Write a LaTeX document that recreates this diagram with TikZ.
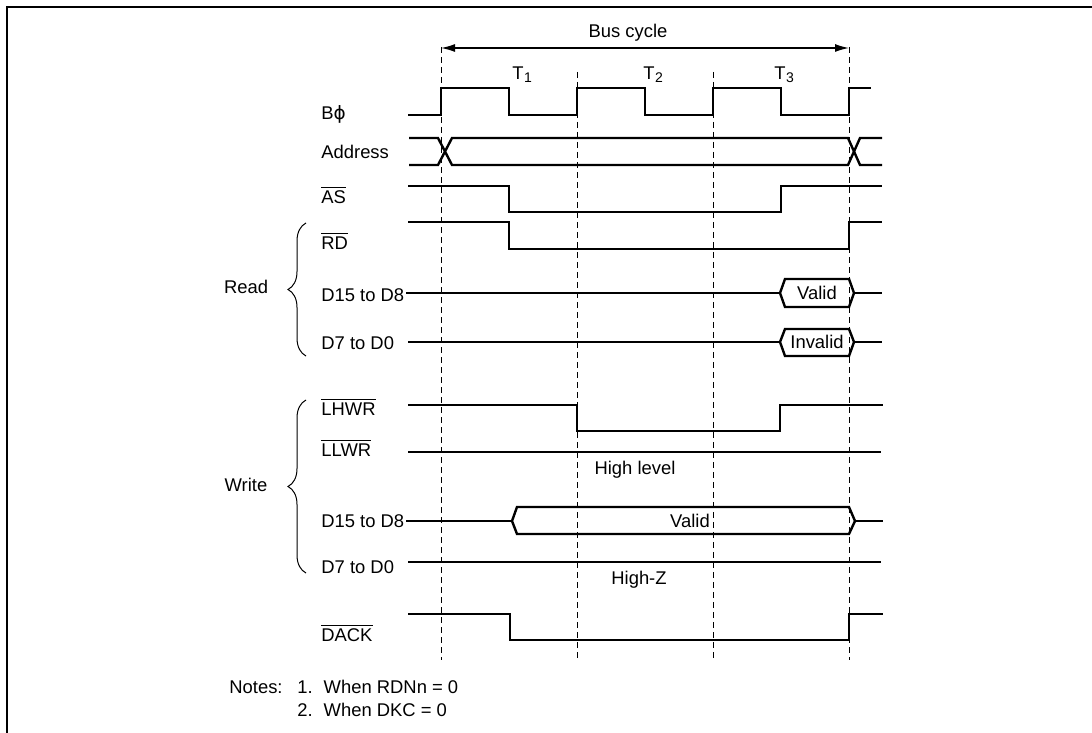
\documentclass[tikz,border=0pt]{standalone}
\usepackage{fontspec}
\setmainfont{Liberation Sans}
\newfontfamily\greekfont{DejaVu Sans}
\usetikzlibrary{arrows.meta,decorations.pathreplacing}
\newcommand{\ovl}[1]{$\overline{\mbox{#1}}$}
\newcommand{\tsub}[1]{T\hspace{0.3pt}\raisebox{-1.3pt}{\fontsize{7}{7}\selectfont #1}}

\begin{document}
\begin{tikzpicture}[x=0.5pt,y=-0.5pt,font=\fontsize{9.2}{11}\selectfont,
    sig/.style={line width=1.2pt},
    tick/.style={line width=0.5pt,dash pattern=on 3pt off 2pt},
    lab/.style={anchor=west,inner sep=0pt},
    brace/.style={line width=0.5pt,decorate,decoration={brace,amplitude=9pt}}]
    \useasboundingbox (0,0) rectangle (1092,733);
    \draw[line width=1pt] (7,733)--(7,7)--(1092,7);
    % cycle marks and bus cycle
    \foreach \x/\t in {441/47,577/72,713/72,849/47} \draw[tick] (\x,\t)--(\x,660);
    \coordinate (bcl) at (441,48); \coordinate (bcr) at (849,48);
    \draw[line width=0.7pt,{Latex[length=7pt,width=4pt]}-{Latex[length=7pt,width=4pt]}] (bcl)--(bcr);
    \node (bus) at (628,33) {Bus cycle};
    \foreach \x/\n in {512/1,643/2,774/3} \node[anchor=base west,inner sep=0pt] (t\n) at (\x,80) {\tsub{\n}};
    % signal names
    \node[lab] (bphi) at (321,114) {B{\greekfont ϕ}};
    \node[lab] (addr) at (321,152) {Address};
    \node[lab] (as) at (321,195) {\ovl{AS}};
    \node[lab] (rd) at (321,241) {\ovl{RD}};
    \node[lab] (rdh) at (321,295) {D15 to D8};
    \node[lab] (rdl) at (321,343) {D7 to D0};
    \node[lab] (lhwr) at (321,407) {\ovl{LHWR}};
    \node[lab] (llwr) at (321,448) {\ovl{LLWR}};
    \node[lab] (wrh) at (321,521) {D15 to D8};
    \node[lab] (wrl) at (321,567) {D7 to D0};
    \node[lab] (dack) at (321,633) {\ovl{DACK}};
    \node (read) at (246,287) {Read};
    \node (write) at (246,485) {Write};
    \draw[brace] (306,356)--(306,223);
    \draw[brace] (306,573)--(306,400);
    % waveforms
    \draw[sig] (408,115)--(441,115)
      \foreach \x in {441,577,713} {--(\x,88)--(\x+68,88)--(\x+68,115)--(\x+136,115)}
      --(849,88)--(871,88);
    \draw[sig] (409,138)--(438,138)--(452,165)--(848,165)--(860,138)--(882,138);
    \draw[sig] (409,165)--(438,165)--(452,138)--(848,138)--(860,165)--(882,165);
    \draw[sig] (408,186)--(509,186)--(509,212)--(781,212)--(781,186)--(882,186);
    \draw[sig] (408,222)--(509,222)--(509,249)--(849,249)--(849,222)--(882,222);
    \draw[sig] (406,293)--(780,293) (854,293)--(882,293);
    \draw[sig] (780,293)--(785,279)--(849,279)--(854,293)--(849,307)--(785,307)--cycle;
    \node (rvalid) at (817,293) {Valid};
    \draw[sig] (408,342)--(780,342) (854,342)--(882,342);
    \draw[sig] (780,342)--(785,329)--(849,329)--(854,342)--(849,356)--(785,356)--cycle;
    \node[inner sep=0pt] (rinvalid) at (817,342) {Invalid};
    \draw[sig] (408,405)--(577,405)--(577,431)--(780,431)--(780,405)--(883,405);
    \draw[sig] (408,452)--(881,452);
    \node (high) at (635,470) {High level};
    \draw[sig] (406,521)--(512,521) (855,521)--(883,521);
    \draw[sig] (512,521)--(517,507)--(849,507)--(855,521)--(849,534)--(517,534)--cycle;
    \node (wvalid) at (690,521) {Valid};
    \draw[sig] (408,562)--(881,562);
    \node (hiz) at (639,580) {High-Z};
    \draw[sig] (408,614)--(510,614)--(510,640)--(849,640)--(849,614)--(883,614);
    % notes
    \node[lab] (notes) at (229,687) {Notes:};
    \node[lab] (note1) at (297,687) {1.\hspace{5.5pt}When RDNn = 0};
    \node[lab] (note2) at (297,710) {2.\hspace{5.5pt}When DKC = 0};
  \end{tikzpicture}
\end{document}
